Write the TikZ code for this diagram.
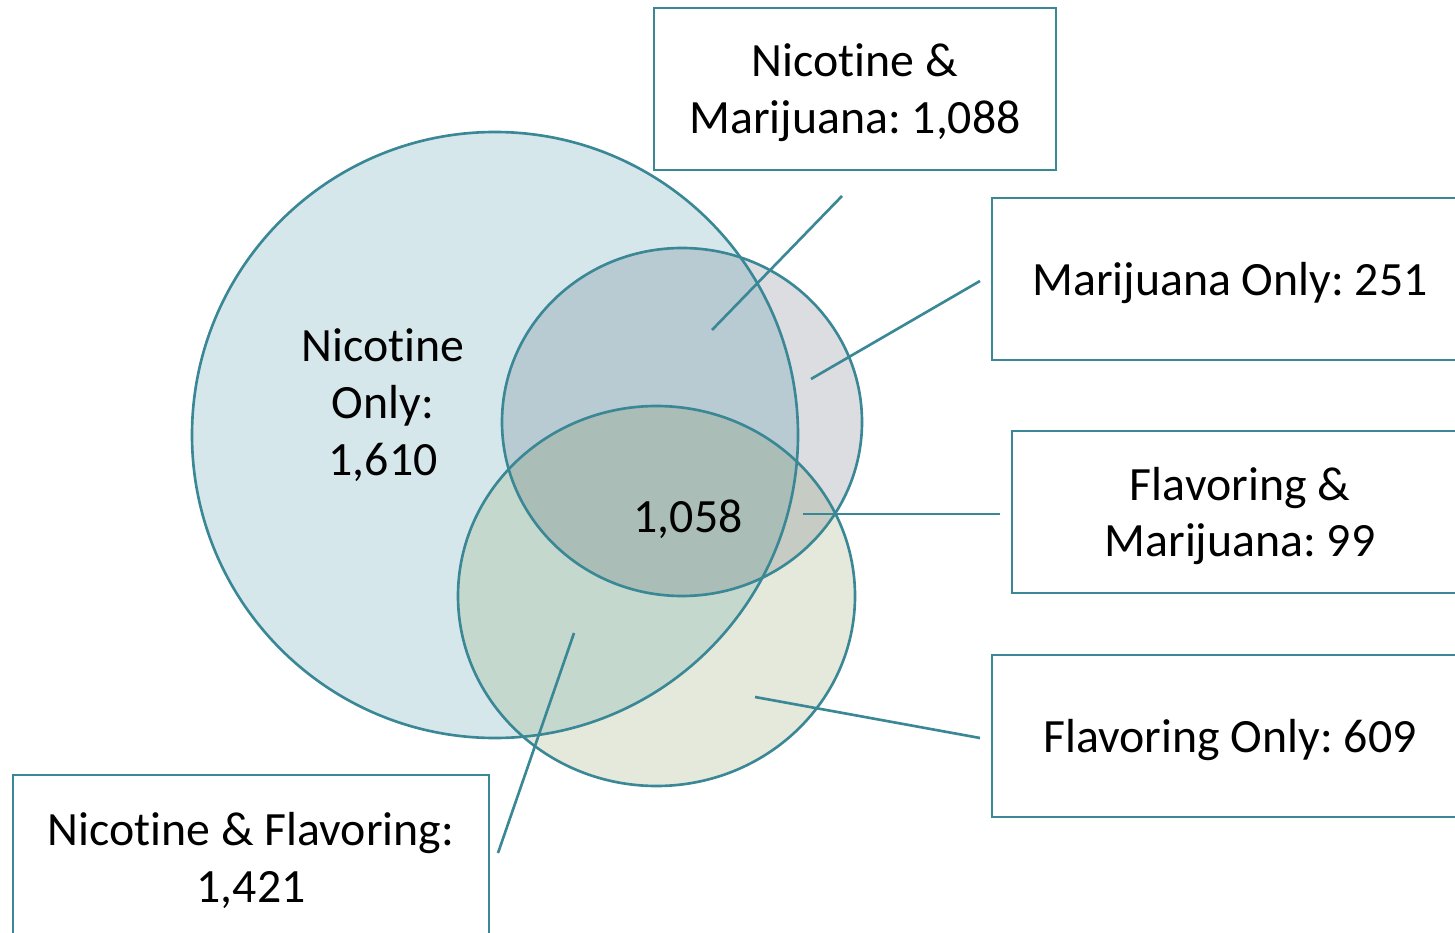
\documentclass[tikz,border=0pt]{standalone}
\usepackage{fontspec}
\setmainfont[Ligatures=NoCommon]{Carlito}
\frenchspacing
\definecolor{teal}{HTML}{3A8795}
\definecolor{ncol}{HTML}{D6E7EC}
\definecolor{mcol}{HTML}{DBDDE1}
\definecolor{fcol}{HTML}{E4E9DC}
\definecolor{nmcol}{HTML}{B8CBD3}
\definecolor{nfcol}{HTML}{C4D8CE}
\definecolor{mfcol}{HTML}{C6CBC4}
\definecolor{nmfcol}{HTML}{AABDB7}
\tikzset{
  lbl/.style={font=\fontsize{13.6pt}{16.2pt}\selectfont, align=center, text=black},
  box/.style={draw=teal, line width=0.75pt, fill=white, rectangle, inner sep=0pt},
  conn/.style={draw=teal, line width=0.75pt},
  ring/.style={draw=teal, line width=0.75pt}
}
\newcommand{\Npath}{(4.95,-4.35) circle (3.03)}
\newcommand{\Mpath}{(6.82,-4.22) ellipse [x radius=1.80, y radius=1.74]}
\newcommand{\Fpath}{(6.565,-5.96) ellipse [x radius=1.985, y radius=1.90]}
\begin{document}
\begin{tikzpicture}
\useasboundingbox (0,0) rectangle (14.55,-9.33);
% fills
\fill[ncol] \Npath;
\fill[mcol] \Mpath;
\fill[fcol] \Fpath;
\begin{scope}\clip \Mpath; \fill[nmcol] \Npath; \end{scope}
\begin{scope}\clip \Fpath; \fill[nfcol] \Npath; \end{scope}
\begin{scope}\clip \Fpath; \fill[mfcol] \Mpath; \end{scope}
\begin{scope}\clip \Fpath; \clip \Mpath; \fill[nmfcol] \Npath; \end{scope}
% outlines
\draw[ring] \Npath;
\draw[ring] \Mpath;
\draw[ring] \Fpath;
% labels inside
\node[lbl] (nonly) at (3.83,-4.05) {Nicotine\\Only:\\1,610};
\node[lbl] (all) at (6.88,-5.19) {1,058};
% boxes
\node[box, minimum width=4.02cm, minimum height=1.62cm] (nm) at (8.55,-0.89) {};
\node[box, minimum width=4.76cm, minimum height=1.62cm] (monly) at (12.30,-2.79) {};
\node[box, minimum width=4.56cm, minimum height=1.62cm] (fm) at (12.40,-5.12) {};
\node[box, minimum width=4.76cm, minimum height=1.62cm] (fonly) at (12.30,-7.36) {};
\node[box, minimum width=4.76cm, minimum height=1.62cm] (nf) at (2.51,-8.56) {};
\node[lbl] (nmt) at ([yshift=-0.4mm]nm.center) {Nicotine \&\\Marijuana: 1,088};
\node[lbl] (monlyt) at ([yshift=-0.4mm]monly.center) {Marijuana Only: 251};
\node[lbl] (fmt) at ([yshift=-0.4mm]fm.center) {Flavoring \&\\Marijuana: 99};
\node[lbl] (fonlyt) at ([yshift=-0.4mm]fonly.center) {Flavoring Only: 609};
\node[lbl] (nft) at ([yshift=-0.4mm]nf.center) {Nicotine \& Flavoring:\\1,421};
% connector points
\coordinate (nmA) at (8.42,-1.96);
\coordinate (nmB) at (7.12,-3.30);
\coordinate (moA) at (9.80,-2.81);
\coordinate (moB) at (8.11,-3.79);
\coordinate (fmA) at (10.00,-5.14);
\coordinate (fmB) at (8.03,-5.14);
\coordinate (foA) at (9.80,-7.38);
\coordinate (foB) at (7.55,-6.97);
\coordinate (nfA) at (4.98,-8.53);
\coordinate (nfB) at (5.74,-6.33);
\draw[conn] (nmA) -- (nmB);
\draw[conn] (moA) -- (moB);
\draw[conn] (fmA) -- (fmB);
\draw[conn] (foA) -- (foB);
\draw[conn] (nfA) -- (nfB);
\end{tikzpicture}
\end{document}
